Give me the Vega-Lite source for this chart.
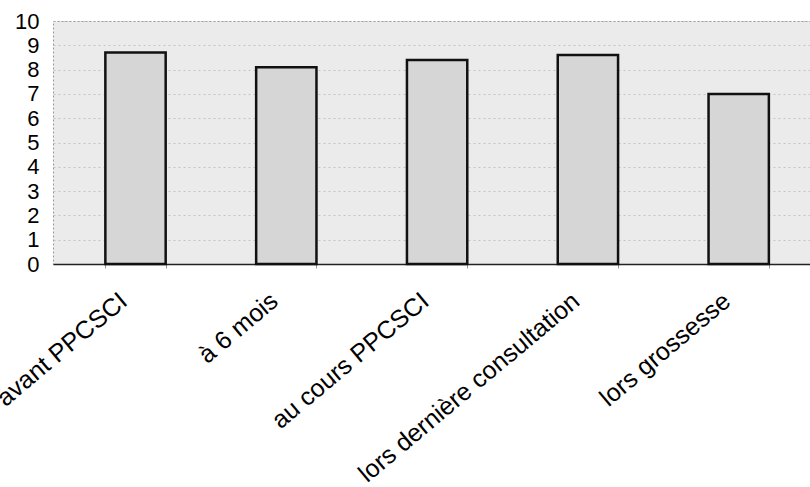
{
  "$schema": "https://vega.github.io/schema/vega-lite/v6.json",
  "autosize": {"type": "none"},
  "padding": {"left": 53, "top": 21, "right": 0, "bottom": 223},
  "width": 757,
  "height": 243,
  "background": "white",
  "data": {
    "values": [
      {"moment": "avant PPCSCI", "score": 8.7},
      {"moment": "à 6 mois", "score": 8.1},
      {"moment": "au cours PPCSCI", "score": 8.4},
      {"moment": "lors dernière consultation", "score": 8.6},
      {"moment": "lors grossesse", "score": 7.0}
    ]
  },
  "mark": {"type": "bar", "fill": "#d6d6d6", "stroke": "#111111", "strokeWidth": 2.5},
  "encoding": {
    "x": {
      "field": "moment",
      "type": "nominal",
      "sort": null,
      "scale": {"paddingInner": 0.6, "paddingOuter": 0.31, "align": 0.56},
      "axis": {
        "title": null,
        "labelAngle": -40,
        "labelFont": "Liberation Sans",
        "labelFontSize": 25,
        "labelColor": "#000000",
        "labelPadding": 20,
        "labelOffset": -20,
        "labelLimit": 0,
        "domainColor": "#222222",
        "domainWidth": 1.5,
        "tickBand": "extent",
        "tickSize": 4,
        "tickColor": "#999999",
        "grid": false
      }
    },
    "y": {
      "field": "score",
      "type": "quantitative",
      "scale": {"domain": [0, 10], "nice": false},
      "axis": {
        "title": null,
        "values": [0, 1, 2, 3, 4, 5, 6, 7, 8, 9, 10],
        "labelFont": "Liberation Sans",
        "labelFontSize": 22,
        "labelColor": "#000000",
        "labelPadding": 14,
        "ticks": false,
        "domain": false,
        "grid": true,
        "gridColor": "#aaaaaa",
        "gridDash": [2, 3],
        "gridOpacity": 0.6
      }
    }
  },
  "config": {
    "view": {"fill": "#ebebeb", "stroke": "#999999", "strokeDash": [2, 2]}
  }
}
